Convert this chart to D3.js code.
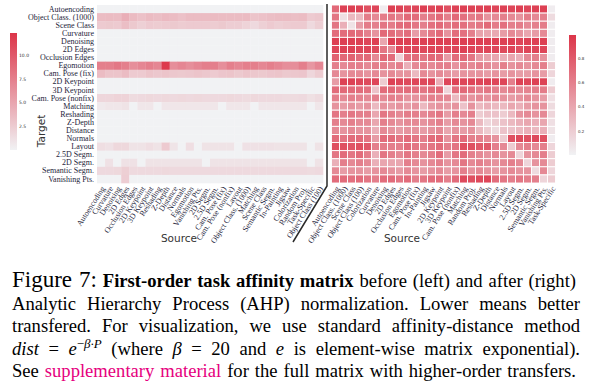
<!DOCTYPE html>
<html><head><meta charset="utf-8">
<script src="https://cdn.jsdelivr.net/npm/d3@7"></script>
<style>
html,body{margin:0;padding:0;background:#fff;}
svg{display:block;}
</style></head><body>
<svg id="chart" width="592" height="390"></svg>
<script>
const targets = ["Autoencoding","Object Class. (1000)","Scene Class","Curvature","Denoising","2D Edges","Occlusion Edges","Egomotion","Cam. Pose (fix)","2D Keypoint","3D Keypoint","Cam. Pose (nonfix)","Matching","Reshading","Z-Depth","Distance","Normals","Layout","2.5D Segm.","2D Segm.","Semantic Segm.","Vanishing Pts."];
const sourcesLeft = ["Autoencoding","Curvature","Denoising","2D Edges","Occlusion Edges","2D Keypoint","3D Keypoint","Reshading","Z-Depth","Distance","Normals","Egomotion","Vanishing Pts.","2D Segm.","2.5D Segm.","Cam. Pose (fix)","Cam. Pose (nonfix)","Layout","Object Class. (1000)","Matching","Scene Class","Semantic Segm.","In-Painting","Jigsaw","Colorization","Random Proj.","Task-Specific","Object Class (100)"];
const sourcesRight = ["Autoencoding","Object Class. (1000)","Scene Class","Object Class (100)","Colorization","Curvature","Denoising","2D Edges","Occlusion Edges","Egomotion","Cam. Pose (fix)","In-Painting","Jigsaw","2D Keypoint","3D Keypoint","Cam. Pose (nonfix)","Matching","Random Proj.","Reshading","Z-Depth","Distance","Normals","Layout","2.5D Segm.","2D Segm.","Semantic Segm.","Vanishing Pts.","Task-Specific"];

// before AHP (raw), rows = targets, cols = sourcesLeft
const leftValues = [
[0,0,0,0,0,0,0,0,0,0,0,0,0,0,0,0,0,0,0,0,0,0,0,0,0,0,0,0],
[3.5,3.6,3.5,4.4,3.6,3.2,3.6,3.4,3.7,3.5,3.2,3.5,3.5,3.5,3.6,3.5,3.5,3.5,3.6,3.0,3.2,3.4,3.5,3.5,3.4,3.5,2.6,2.8],
[2.6,2.7,2.6,3.4,2.7,2.2,2.6,2.5,2.6,2.7,2.5,2.6,2.6,2.6,2.5,2.7,2.4,2.4,2.0,1.6,2.2,2.6,2.3,2.5,2.6,2.6,1.6,2.3],
[0,0,0,0,0,0,0,0,0,0,0,0,0,0,0,0,0,0,0,0,0,0,0,0,0,0,0,0],
[0,0,0,0,0,0,0,0,0,0,0,0,0,0,0,0,0,0,0,0,0,0,0,0,0,0,0,0],
[0,0,0,0,0,0,0,0,0,0,0,0,0,0,0,0,0,0,0,0,0,0,0,0,0,0,0,0],
[0,0,0,0,0,0,0,0,0,0,0,0,0,0,0,0,0,0,0,0,0,0,0,0,0,0,0,0],
[7.5,7.5,8.0,7.5,6.5,7.0,7.5,7.0,12.0,6.5,7.0,6.5,7.0,7.5,7.5,6.5,7.5,7.0,7.5,7.5,7.0,7.5,7.0,6.5,6.5,7.5,6.0,7.0],
[3.5,3.0,3.0,3.5,2.6,2.6,3.0,2.8,3.0,2.8,2.7,2.8,3.0,2.8,2.6,2.9,3.0,2.7,3.0,2.8,2.7,2.9,3.0,2.7,2.8,2.9,1.8,2.5],
[0,0,0,0,0,0,0,0,0,0,0,0,0,0,0,0,0,0,0,0,0,0,0,0,0,0,0,0],
[0,0,0,0,0,0,0,0,0,0,0,0,0,0,0,0,0,0,0,0,0,0,0,0,0,0,0,0],
[1.8,1.8,2.0,2.0,1.5,1.6,1.7,1.6,1.7,1.6,1.7,1.6,1.7,1.6,1.6,1.6,1.7,1.6,1.5,1.7,1.6,1.6,1.6,1.5,1.5,1.6,1.2,1.5],
[0.6,0.8,0.8,1.0,0,0.8,0.8,0,0.8,0.8,0.8,0.8,0.8,0.8,0.8,0,0.8,0.8,0.8,0,0.8,0.8,0.8,0.8,0.8,0.8,0,0.8],
[0,0,0,0,0,0,0,0,0,0,0,0,0,0,0,0,0,0,0,0,0,0,0,0,0,0,0,0],
[0,0,0,0,0,0,0,0,0,0,0,0,0,0,0,0,0,0,0,0,0,0,0,0,0,0,0,0],
[0,0,0,0,0,0,0,0,0,0,0,0,0,0,0,0,0,0,0,0,0,0,0,0,0,0,0,0],
[0,0,0,0,0,0,0,0,0,0,0,0,0,0,0,0,0,0,0,0,0,0,0,0,0,0,0,0],
[1.3,1.1,1.7,1.7,1.0,1.0,1.3,1.0,2.6,0.9,0,1.3,0,1.0,1.0,1.0,1.0,0,1.1,1.1,1.1,1.1,1.0,1.0,1.0,1.0,0,1.0],
[0,0,0,0,0,0,0,0,0,0,0,0,0,0,0,0,0,0,0,0,0,0,0,0,0,0,0,0],
[0,1.1,0,1.1,1.1,0,1.0,1.0,1.0,1.0,1.0,1.0,1.0,0,1.0,1.0,1.0,1.0,1.0,1.0,1.0,1.0,1.0,1.0,1.0,1.0,0,1.0],
[1.6,1.6,1.7,2.3,1.6,1.6,1.6,1.6,1.7,1.6,1.6,1.6,1.6,1.6,1.6,1.6,1.6,1.6,1.6,1.6,1.6,1.6,1.6,1.6,1.6,1.6,1.5,1.6],
[0,0,0,2.4,0,0,0,0,0,0,0,0,0,0,0,0,0,0,0,0,0,0,0,0,0,0,0,0]
];

// after AHP normalization, rows = targets, cols = sourcesRight
const rightValues = [
[.72,.92,.93,.92,.85,.90,.03,.93,.92,.88,.90,.93,.90,.93,.85,.92,.93,.92,.92,.93,.90,.92,.90,.93,.90,.92,.93,.03],
[.65,.10,.30,.30,.62,.55,.62,.65,.60,.72,.70,.60,.65,.72,.60,.72,.68,.62,.65,.50,.55,.60,.55,.50,.62,.55,.60,.12],
[.65,.35,.08,.45,.62,.60,.65,.62,.70,.72,.65,.60,.68,.72,.65,.70,.68,.62,.65,.72,.62,.68,.60,.62,.55,.60,.62,.03],
[.70,.70,.72,.70,.60,.50,.72,.70,.65,.70,.45,.55,.65,.72,.50,.70,.68,.60,.42,.40,.38,.45,.55,.50,.40,.45,.55,.03],
[.93,.93,.93,.93,.90,.93,.40,.93,.93,.93,.93,.92,.93,.93,.92,.93,.93,.93,.93,.93,.93,.92,.93,.90,.93,.93,.93,.03],
[.90,.92,.92,.90,.90,.88,.65,.55,.90,.90,.90,.88,.90,.90,.88,.90,.92,.90,.88,.90,.90,.88,.90,.85,.90,.90,.90,.03],
[.75,.72,.75,.70,.72,.55,.72,.70,.15,.68,.70,.65,.72,.70,.45,.70,.72,.65,.45,.42,.40,.35,.40,.35,.55,.60,.50,.03],
[.60,.55,.60,.60,.55,.60,.60,.55,.60,.35,.55,.60,.55,.60,.60,.50,.60,.55,.60,.55,.50,.60,.50,.55,.50,.55,.60,.20],
[.55,.50,.55,.55,.50,.55,.50,.55,.50,.50,.30,.55,.50,.55,.50,.45,.50,.50,.50,.45,.50,.45,.50,.45,.45,.50,.45,.15],
[.45,.92,.92,.90,.88,.90,.20,.92,.90,.88,.90,.88,.90,.35,.90,.92,.90,.90,.90,.92,.90,.90,.60,.92,.90,.92,.92,.03],
[.70,.72,.70,.70,.68,.25,.70,.72,.68,.70,.68,.65,.70,.72,.15,.70,.72,.68,.60,.65,.60,.55,.60,.55,.58,.60,.62,.20],
[.60,.55,.60,.58,.55,.60,.55,.60,.58,.50,.50,.55,.60,.58,.55,.30,.55,.50,.55,.50,.55,.50,.45,.50,.55,.50,.45,.10],
[.50,.45,.50,.45,.50,.30,.50,.45,.50,.45,.50,.30,.45,.50,.45,.50,.25,.50,.30,.35,.30,.30,.40,.35,.45,.50,.50,.12],
[.65,.60,.65,.60,.60,.40,.65,.60,.55,.62,.60,.55,.60,.65,.45,.60,.55,.60,.20,.25,.25,.20,.30,.50,.55,.50,.55,.15],
[.60,.55,.60,.55,.55,.40,.60,.55,.50,.55,.55,.50,.55,.60,.45,.55,.50,.55,.30,.15,.20,.25,.30,.35,.40,.35,.40,.10],
[.55,.50,.55,.50,.50,.35,.55,.50,.45,.50,.50,.45,.50,.55,.40,.50,.45,.50,.30,.20,.12,.25,.25,.30,.35,.30,.35,.08],
[.70,.65,.70,.70,.65,.45,.70,.70,.65,.70,.65,.60,.70,.72,.50,.65,.70,.60,.60,.55,.50,.20,.85,.88,.85,.88,.85,.03],
[.85,.85,.82,.85,.80,.60,.62,.60,.60,.70,.65,.60,.65,.70,.60,.65,.85,.85,.80,.80,.60,.55,.20,.55,.60,.55,.60,.15],
[.65,.70,.65,.70,.60,.35,.65,.60,.55,.65,.60,.55,.60,.70,.45,.65,.70,.60,.55,.50,.55,.50,.55,.15,.50,.55,.60,.20],
[.35,.60,.55,.60,.55,.35,.40,.40,.40,.60,.55,.50,.55,.60,.50,.55,.65,.55,.60,.55,.50,.55,.60,.55,.15,.50,.55,.20],
[.55,.45,.50,.50,.45,.50,.55,.50,.45,.55,.50,.45,.50,.55,.45,.50,.60,.50,.55,.50,.45,.50,.55,.50,.50,.12,.55,.15],
[.70,.70,.68,.70,.65,.60,.70,.70,.65,.70,.60,.65,.70,.70,.60,.70,.88,.85,.88,.90,.70,.65,.60,.65,.60,.60,.15,.20]
];

const leftTicks = [2.5, 5.0, 7.5, 10.0];
const rightTicks = [0.2, 0.4, 0.6, 0.8];
const leftDomain = [0, 12.3];
const rightDomain = [0, 0.99];

const svg = d3.select("#chart");
const lowCol = "#f1f2f4", highCol = "#dc3549";

const y = d3.scaleBand().domain(targets).range([5, 183]).padding(0);
const xL = d3.scaleBand().domain(sourcesLeft).range([97, 323]).padding(0);
const xR = d3.scaleBand().domain(sourcesRight).range([331.5, 555.5]).padding(0);
const cL = d3.scaleLinear().domain(leftDomain).range([lowCol, highCol]).interpolate(d3.interpolateRgb).clamp(true);
const cR = d3.scaleLinear().domain(rightDomain).range([lowCol, highCol]).interpolate(d3.interpolateRgb).clamp(true);

// left heatmap
const leftCells = [];
targets.forEach((t,i)=>sourcesLeft.forEach((s,j)=>leftCells.push({t,s,v:leftValues[i][j]})));
svg.append("g").selectAll("rect").data(leftCells).join("rect")
  .attr("x", d=>xL(d.s)).attr("y", d=>y(d.t))
  .attr("width", xL.bandwidth()+0.3).attr("height", y.bandwidth()+0.3)
  .attr("fill", d=>cL(d.v));

// right heatmap
const rightCells = [];
targets.forEach((t,i)=>sourcesRight.forEach((s,j)=>rightCells.push({t,s,v:rightValues[i][j]})));
svg.append("g").selectAll("rect").data(rightCells).join("rect")
  .attr("x", d=>xR(d.s)).attr("y", d=>y(d.t))
  .attr("width", xR.bandwidth()).attr("height", y.bandwidth())
  .attr("fill", d=>cR(d.v)).attr("stroke","#fff").attr("stroke-width",0.9);

// separator line
svg.append("path").attr("d","M327,4 L327,186 L293,242")
  .attr("fill","none").attr("stroke","#2a2a2a").attr("stroke-width",1.5);

const serif = "'Liberation Serif','Times New Roman',serif";
const sans = "'DejaVu Sans',sans-serif";

// y axis (targets)
const yAx = svg.append("g").attr("transform","translate(97,0)")
  .call(d3.axisLeft(y).tickSize(0).tickPadding(3));
yAx.select(".domain").remove();
yAx.selectAll("text").style("font-family",serif).style("font-size","8px").attr("fill","#1d1d3a");

// x axes
function xAxis(scale){
  const g = svg.append("g").attr("transform","translate(0,183)")
    .call(d3.axisBottom(scale).tickSize(0).tickPadding(0));
  g.select(".domain").remove();
  g.selectAll("text").style("font-family",serif).style("font-size","8px").attr("fill","#1d1d3a")
    .attr("text-anchor","end").attr("x",0).attr("y",0).attr("dy","0.35em")
    .attr("transform","translate(2,4) rotate(-57)");
}
xAxis(xL); xAxis(xR);

// axis titles
svg.append("text").attr("transform","translate(45,131) rotate(-90)").attr("text-anchor","middle")
  .style("font-family",sans).style("font-size","10.5px").attr("fill","#333").text("Target");
svg.append("text").attr("x",179).attr("y",242).attr("text-anchor","middle")
  .style("font-family",sans).style("font-size","10.5px").attr("fill","#333").text("Source");
svg.append("text").attr("x",402).attr("y",242).attr("text-anchor","middle")
  .style("font-family",sans).style("font-size","10.5px").attr("fill","#333").text("Source");

// colorbars
const defs = svg.append("defs");
const grad = defs.append("linearGradient").attr("id","cbar").attr("x1",0).attr("y1",1).attr("x2",0).attr("y2",0);
grad.append("stop").attr("offset","0%").attr("stop-color",lowCol);
grad.append("stop").attr("offset","100%").attr("stop-color",highCol);

function colorbar(x, y0, y1, domain, ticks, fmt, fs){
  svg.append("rect").attr("x",x).attr("y",y0).attr("width",7).attr("height",y1-y0).attr("fill","url(#cbar)");
  const s = d3.scaleLinear().domain(domain).range([y1,y0]);
  const g = svg.append("g").attr("transform",`translate(${x+7},0)`)
    .call(d3.axisRight(s).tickValues(ticks).tickFormat(d3.format(fmt)).tickSize(0).tickPadding(2));
  g.select(".domain").remove();
  g.selectAll("text").style("font-family",sans).style("font-size",fs).attr("fill","#333");
}
colorbar(10, 33, 150, leftDomain, leftTicks, ".1f", "4.5px");
colorbar(569, 35, 155, rightDomain, rightTicks, ".1f", "4px");

// caption
const fs = 18.6;
function line(yy){ return svg.append("text").attr("x",12).attr("y",yy).style("font-family",serif).style("font-size",fs+"px").attr("fill","#000"); }
function justify(t, right){
  const n = t.node();
  const w = n.getComputedTextLength();
  const spaces = (n.textContent.match(/ /g)||[]).length;
  if (spaces>0) t.style("word-spacing", ((right-12-w)/spaces)+"px");
}
const l1 = line(287);
l1.append("tspan").style("font-size","23px").text("Figure 7:");
l1.append("tspan").text(" ");
l1.append("tspan").style("font-weight","bold").text("First-order task affinity matrix");
l1.append("tspan").text(" before (left) and after (right)");
justify(l1, 576);

const l2 = line(309.5);
l2.text("Analytic Hierarchy Process (AHP) normalization. Lower means better");
justify(l2, 580);

const l3 = line(332);
l3.text("transfered. For visualization, we use standard affinity-distance method");
justify(l3, 580);

const l4 = line(354.5);
l4.append("tspan").style("font-style","italic").text("dist");
l4.append("tspan").text(" = ");
l4.append("tspan").style("font-style","italic").text("e");
l4.append("tspan").attr("dy",-7).style("font-size","13px").text("\u2212");
l4.append("tspan").style("font-size","13px").style("font-style","italic").text("\u03B2\u00B7P");
l4.append("tspan").attr("dy",7).text(" (where ");
l4.append("tspan").style("font-style","italic").text("\u03B2");
l4.append("tspan").text(" = 20 and ");
l4.append("tspan").style("font-style","italic").text("e");
l4.append("tspan").text(" is element-wise matrix exponential).");
justify(l4, 580);

const l5 = line(377);
l5.append("tspan").text("See ");
l5.append("tspan").attr("fill","#e6007e").text("supplementary material");
l5.append("tspan").text(" for the full matrix with higher-order transfers.");
justify(l5, 576);
</script>
</body></html>
